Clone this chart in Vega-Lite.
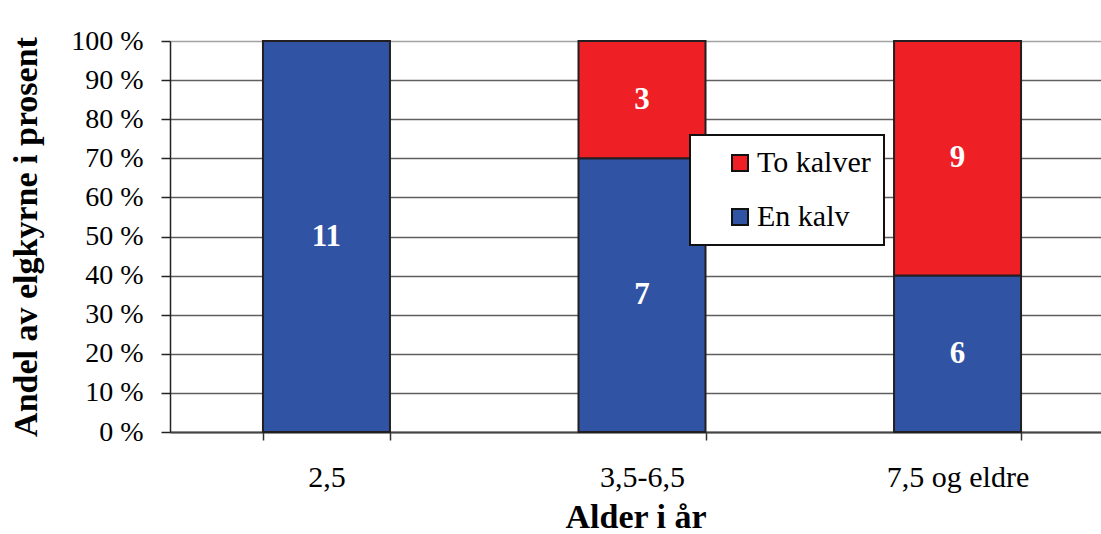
{
  "$schema": "https://vega.github.io/schema/vega-lite/v6.json",
  "autosize": "none",
  "width": 931,
  "height": 391,
  "padding": {"left": 170, "top": 41, "right": 0, "bottom": 102},
  "background": "white",
  "config": {
    "font": "Liberation Serif",
    "view": {"stroke": null},
    "axis": {"labelColor": "#000", "titleColor": "#000", "labelFont": "Liberation Serif", "titleFont": "Liberation Serif", "labelOverlap": false},
    "legend": {"strokeWidth": 2, "labelFont": "Liberation Serif"}
  },
  "data": {
    "values": [
      {"alder": "2,5", "kull": "En kalv", "antall": 11},
      {"alder": "3,5-6,5", "kull": "En kalv", "antall": 7},
      {"alder": "3,5-6,5", "kull": "To kalver", "antall": 3},
      {"alder": "7,5 og eldre", "kull": "En kalv", "antall": 6},
      {"alder": "7,5 og eldre", "kull": "To kalver", "antall": 9}
    ]
  },
  "encoding": {
    "x": {
      "field": "alder",
      "type": "nominal",
      "sort": "ascending",
      "scale": {"paddingInner": 0.5975, "paddingOuter": 0.274, "align": 0.5376},
      "axis": {
        "title": "Alder i år",
        "titleFontSize": 34,
        "titleFontWeight": "bold",
        "titlePadding": 8,
        "labelFontSize": 30,
        "labelFontWeight": "normal",
        "labelAngle": 0,
        "labelPadding": 22,
        "tickBand": "extent",
        "tickSize": 8,
        "tickColor": "#333",
        "tickWidth": 1.5,
        "domainColor": "#444",
        "domainWidth": 2,
        "grid": false
      }
    },
    "y": {
      "aggregate": "sum",
      "field": "antall",
      "type": "quantitative",
      "stack": "normalize",
      "scale": {"domain": [0, 1]},
      "axis": {
        "title": "Andel av elgkyrne i prosent",
        "titleFontSize": 34,
        "titleFontWeight": "bold",
        "titlePadding": 27,
        "values": [0, 0.1, 0.2, 0.3, 0.4, 0.5, 0.6, 0.7, 0.8, 0.9, 1],
        "labelExpr": "round(datum.value * 100) + ' %'",
        "labelFontSize": 28,
        "labelFontWeight": "normal",
        "labelPadding": 18,
        "labelOverlap": false,
        "tickSize": 9,
        "tickColor": "#222",
        "tickWidth": 1.5,
        "domainColor": "#222",
        "domainWidth": 1.5,
        "grid": true,
        "gridColor": {"condition": {"test": "datum.value === 1", "value": "#a3a3a3"}, "value": "#5f5f5f"},
        "gridWidth": 1.5
      }
    },
    "order": {"field": "kull", "sort": "ascending"}
  },
  "layer": [
    {
      "mark": {"type": "bar", "stroke": "#231f20", "strokeWidth": 2},
      "encoding": {
        "color": {
          "field": "kull",
          "type": "nominal",
          "scale": {"domain": ["To kalver", "En kalv"], "range": ["#ee1f25", "#3153a3"]},
          "legend": {
            "title": null,
            "orient": "none",
            "legendX": 520,
            "legendY": 94,
            "symbolType": "square",
            "symbolSize": 256,
            "symbolStrokeColor": "#111",
            "symbolStrokeWidth": 2,
            "symbolOpacity": 1,
            "symbolOffset": 22,
            "labelFontSize": 30,
            "labelFontWeight": "normal",
            "labelColor": "#000",
            "labelOffset": 2,
            "rowPadding": 24,
            "padding": 13,
            "fillColor": "white",
            "strokeColor": "#111"
          }
        }
      }
    },
    {
      "mark": {"type": "text", "color": "white", "fontWeight": "bold", "fontSize": 31, "baseline": "middle"},
      "encoding": {
        "y": {
          "aggregate": "sum",
          "field": "antall",
          "type": "quantitative",
          "stack": "normalize",
          "bandPosition": 0.5,
          "axis": {
            "title": "Andel av elgkyrne i prosent",
            "titleFontSize": 34,
            "titleFontWeight": "bold",
            "titlePadding": 27,
            "values": [0, 0.1, 0.2, 0.3, 0.4, 0.5, 0.6, 0.7, 0.8, 0.9, 1],
            "labelExpr": "round(datum.value * 100) + ' %'",
            "labelFontSize": 28,
            "labelFontWeight": "normal",
            "labelPadding": 18,
            "labelOverlap": false,
            "tickSize": 9,
            "tickColor": "#222",
            "tickWidth": 1.5,
            "domainColor": "#222",
            "domainWidth": 1.5,
            "grid": true,
            "gridColor": {"condition": {"test": "datum.value === 1", "value": "#a3a3a3"}, "value": "#5f5f5f"},
            "gridWidth": 1.5
          }
        },
        "detail": {"field": "kull"},
        "text": {"aggregate": "sum", "field": "antall", "type": "quantitative"}
      }
    }
  ]
}
